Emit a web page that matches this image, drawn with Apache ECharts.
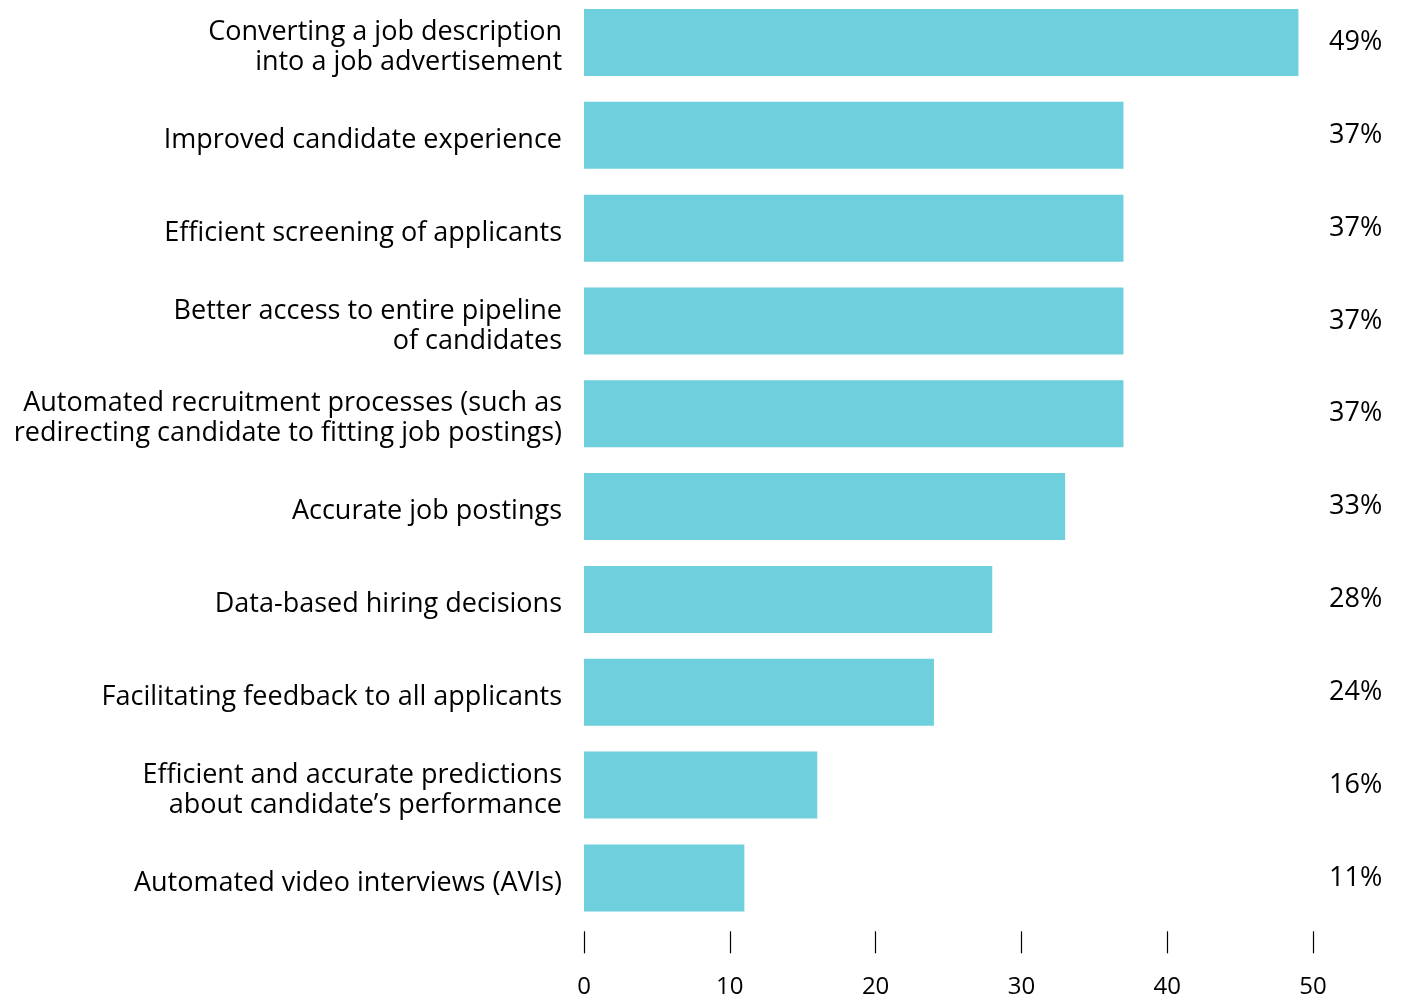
<!DOCTYPE html>
<html>
<head>
<meta charset="utf-8">
<style>
  html, body { margin: 0; padding: 0; background: #ffffff; overflow: hidden; }
  #chart { width: 1402px; height: 995px; }
</style>
<script src="https://cdn.jsdelivr.net/npm/echarts@6/dist/echarts.min.js"></script>
</head>
<body>
<div id="chart"></div>
<script>
// Benefits of AI in recruitment, share of respondents (%)
const categories = [
  'Converting a job description\ninto a job advertisement',
  'Improved candidate experience',
  'Efficient screening of applicants',
  'Better access to entire pipeline\nof candidates',
  'Automated recruitment processes (such as\nredirecting candidate to fitting job postings)',
  'Accurate job postings',
  'Data-based hiring decisions',
  'Facilitating feedback to all applicants',
  'Efficient and accurate predictions\nabout candidate\u2019s performance',
  'Automated video interviews (AVIs)'
];
const values = [49, 37, 37, 37, 37, 33, 28, 24, 16, 11];
const xTicks = [0, 10, 20, 30, 40, 50];

const FONT = 'Open Sans';
const chart = echarts.init(document.getElementById('chart'), null, { renderer: 'canvas' });

const hiddenAxisParts = {
  axisLine: { show: false },
  axisTick: { show: false },
  splitLine: { show: false }
};

chart.setOption({
  animation: false,
  backgroundColor: '#ffffff',
  textStyle: { fontFamily: FONT, color: '#000000' },
  grid: [
    // plot area: bars, value axis, percentage labels
    { left: 584, right: 89, top: -3.9, bottom: 70.7, containLabel: false, outerBoundsMode: 'none' },
    // category labels sit a few pixels lower than the bar centres
    { left: 584, right: 89, top: 1.1, bottom: 65.7, containLabel: false, outerBoundsMode: 'none' }
  ],
  xAxis: [
    {
      gridIndex: 0,
      type: 'value',
      min: xTicks[0],
      max: xTicks[xTicks.length - 1],
      interval: xTicks[1] - xTicks[0],
      offset: 7,
      axisLine: { show: false },
      axisTick: { show: true, length: 22, lineStyle: { color: '#000000', width: 1.2 } },
      splitLine: { show: false },
      axisLabel: { fontFamily: FONT, fontSize: 24, color: '#000000', margin: 44 }
    },
    {
      gridIndex: 1,
      type: 'value',
      min: xTicks[0],
      max: xTicks[xTicks.length - 1],
      show: false
    }
  ],
  yAxis: [
    {
      gridIndex: 0,
      type: 'category',
      inverse: true,
      data: categories,
      ...hiddenAxisParts,
      axisLabel: { show: false }
    },
    {
      gridIndex: 0,
      type: 'category',
      inverse: true,
      position: 'right',
      data: values.map(v => v + '%'),
      ...hiddenAxisParts,
      axisLabel: {
        fontFamily: FONT, fontSize: 27, color: '#000000',
        margin: 16, align: 'left', verticalAlign: 'middle'
      }
    },
    {
      gridIndex: 1,
      type: 'category',
      inverse: true,
      data: categories,
      ...hiddenAxisParts,
      axisLabel: {
        fontFamily: FONT, fontSize: 27, lineHeight: 30, color: '#000000',
        margin: 22, align: 'right', verticalAlign: 'middle'
      }
    }
  ],
  series: [{
    type: 'bar',
    xAxisIndex: 0,
    yAxisIndex: 0,
    data: values,
    barWidth: 67,
    itemStyle: { color: '#6ecfdd' },
    label: { show: false }
  }]
});
</script>
</body>
</html>
